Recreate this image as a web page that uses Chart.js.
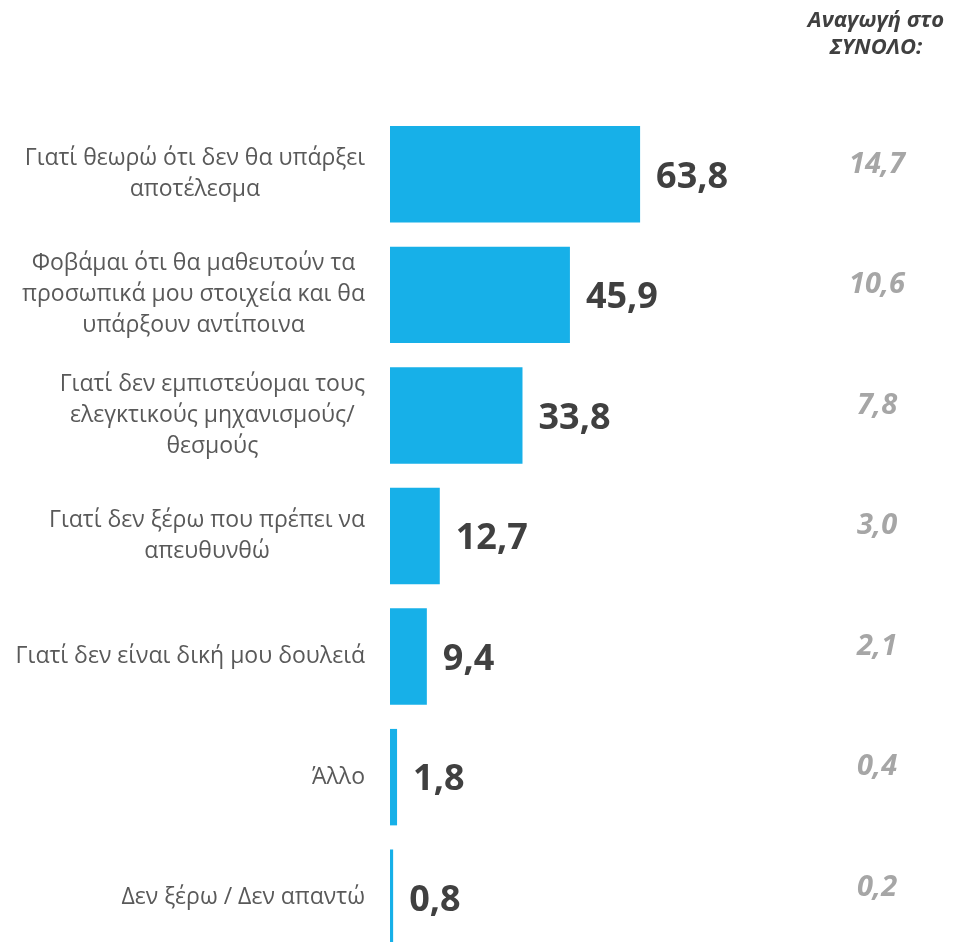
<!DOCTYPE html>
<html>
<head>
<meta charset="utf-8">
<script src="https://cdn.jsdelivr.net/npm/chart.js@4.4.0/dist/chart.umd.min.js"></script>
<style>
  html, body { margin: 0; padding: 0; background: #fff; overflow: hidden; }
  #wrap { width: 954px; height: 960px; }
</style>
</head>
<body>
<div id="wrap"><canvas id="chart"></canvas></div>
<script>
// categories (lines as shown in the picture)
const categories = [
    ['Γιατί θεωρώ ότι δεν θα υπάρξει', 'αποτέλεσμα'],
    ['Φοβάμαι ότι θα μαθευτούν τα', 'προσωπικά μου στοιχεία και θα', 'υπάρξουν αντίποινα'],
    ['Γιατί δεν εμπιστεύομαι τους', 'ελεγκτικούς μηχανισμούς/', 'θεσμούς'],
    ['Γιατί δεν ξέρω που πρέπει να', 'απευθυνθώ'],
    ['Γιατί δεν είναι δική μου δουλειά'],
    ['Άλλο'],
    ['Δεν ξέρω / Δεν απαντώ']
];
const values = [63.8, 45.9, 33.8, 12.7, 9.4, 1.8, 0.8];
const totalValues = [14.7, 10.6, 7.8, 3.0, 2.1, 0.4, 0.2];
const totalHeader = ['Αναγωγή στο', 'ΣΥΝΟΛΟ:'];

function fmt(v) {
    return v.toFixed(1).replace('.', ',');
}

const textPlugin = {
    id: 'textPlugin',
    afterDatasetsDraw(chart) {
        const c = chart.ctx;
        const x = chart.scales.x;
        const y = chart.scales.y;
        c.save();
        c.textBaseline = 'middle';

        // category labels: block right-aligned, lines centred
        c.font = '23px "Open Sans"';
        c.fillStyle = '#595959';
        c.textAlign = 'center';
        categories.forEach(function(lines, i) {
            const cy = y.getPixelForValue(i);
            let w = 0;
            lines.forEach(function(l) { w = Math.max(w, c.measureText(l).width); });
            const cx = 365 - w / 2;
            const lh = 31;
            const top = cy - (lines.length - 1) * lh / 2;
            lines.forEach(function(l, j) {
                c.fillText(l, cx, top + j * lh);
            });
        });

        // value labels
        c.font = 'bold 36px "Open Sans"';
        c.fillStyle = '#404040';
        c.textAlign = 'left';
        values.forEach(function(v, i) {
            c.fillText(fmt(v), x.getPixelForValue(v) + 16, y.getPixelForValue(i) + 3);
        });

        // right column
        c.textAlign = 'center';
        c.font = 'italic bold 29px "Open Sans"';
        c.fillStyle = '#a6a6a6';
        totalValues.forEach(function(v, i) {
            c.fillText(fmt(v), 877, y.getPixelForValue(i) - 10);
        });
        c.font = 'italic bold 22px "Open Sans"';
        c.fillStyle = '#404040';
        c.fillText(totalHeader[0], 876, 21);
        c.fillText(totalHeader[1], 876, 48);
        c.restore();
    }
};

const ctx = document.getElementById('chart').getContext('2d');
new Chart(ctx, {
    type: 'bar',
    data: {
        labels: categories,
        datasets: [{
            data: values,
            backgroundColor: '#17b0e8',
            barPercentage: 0.8,
            categoryPercentage: 1.0
        }]
    },
    options: {
        indexAxis: 'y',
        responsive: true,
        maintainAspectRatio: false,
        animation: false,
        layout: { padding: { left: 390, right: 172, top: 114, bottom: 2 } },
        plugins: { legend: { display: false }, tooltip: { enabled: false } },
        scales: {
            x: { display: false, min: 0, max: 100 },
            y: { display: false }
        }
    },
    plugins: [textPlugin]
});
</script>
</body>
</html>
